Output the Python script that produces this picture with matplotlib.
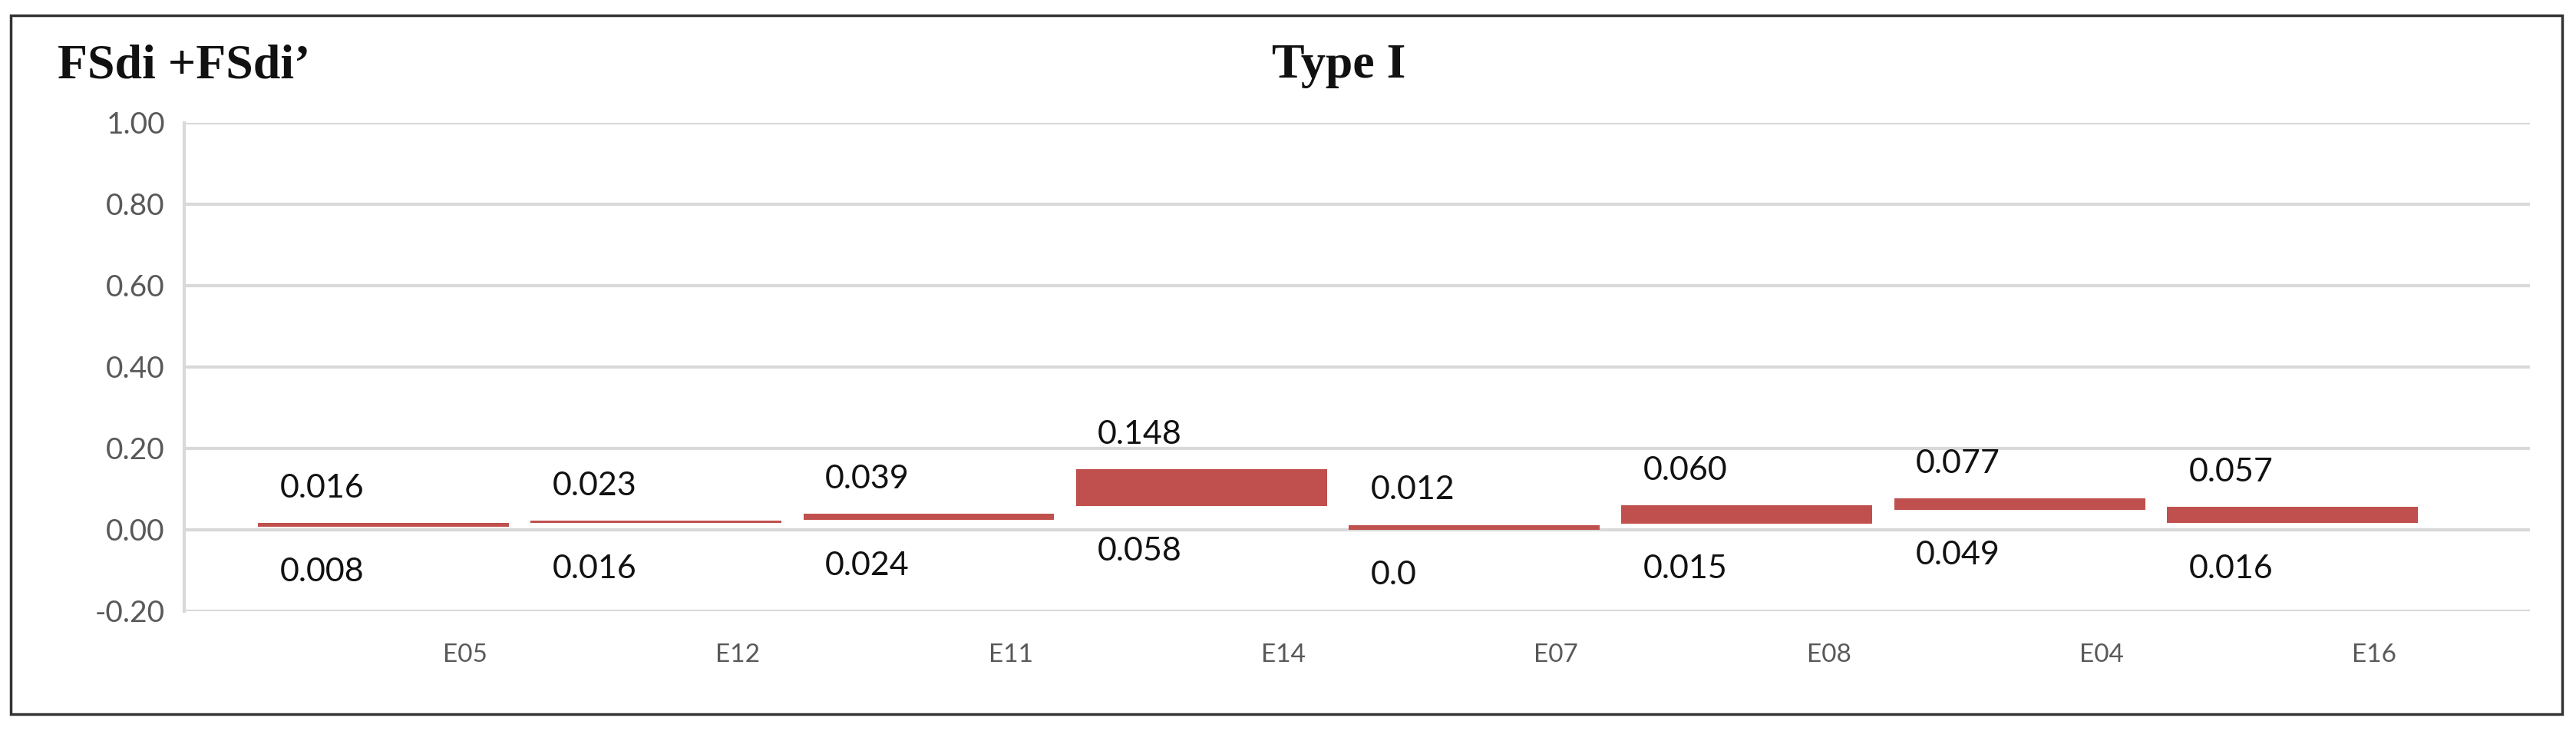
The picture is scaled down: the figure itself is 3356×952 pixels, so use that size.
import matplotlib
matplotlib.use("Agg")
import matplotlib.pyplot as plt
from matplotlib.patches import Rectangle

categories = ["E05", "E12", "E11", "E14", "E07", "E08", "E04", "E16"]
low_values = [0.008, 0.016, 0.024, 0.058, 0.0, 0.015, 0.049, 0.016]
high_values = [0.016, 0.023, 0.039, 0.148, 0.012, 0.060, 0.077, 0.057]
low_labels = ["0.008", "0.016", "0.024", "0.058", "0.0", "0.015", "0.049", "0.016"]
high_labels = ["0.016", "0.023", "0.039", "0.148", "0.012", "0.060", "0.077", "0.057"]
y_ticks = [-0.2, 0.0, 0.2, 0.4, 0.6, 0.8, 1.0]

DPI = 100
fig = plt.figure(figsize=(33.56, 9.52), dpi=DPI)
ax = fig.add_axes([0.0715, 0.164, 0.9105, 0.668])

x = list(range(len(categories)))
heights = [h - l for h, l in zip(high_values, low_values)]
ax.bar(x, heights, bottom=low_values, width=0.92, color="#c0504d", zorder=3)

for xi, lo, hi, ll, hl in zip(x, low_values, high_values, low_labels, high_labels):
    ax.text(xi - 0.38, hi + 0.085, hl, ha="left", va="center",
            fontsize=31, family="Lato", color="#111111", zorder=4)
    ax.text(xi - 0.38, lo - 0.112, ll, ha="left", va="center",
            fontsize=31, family="Lato", color="#111111", zorder=4)

ax.set_xlim(-0.73, 7.87)
ax.set_ylim(-0.2, 1.0)
ax.set_yticks(y_ticks)
ax.set_yticklabels([f"{v:.2f}" for v in y_ticks], fontsize=28, family="Lato", color="#595959")
ax.yaxis.grid(True, color="#d9d9d9", linewidth=3, zorder=0)
ax.set_axisbelow(True)

# category labels sit to the right of each bar centre in the reference
ax.set_xticks([xi + 0.30 for xi in x])
ax.set_xticklabels(categories, fontsize=24, family="Lato", color="#595959")
ax.tick_params(axis="x", length=0, pad=30)
ax.tick_params(axis="y", length=0, pad=18)

for s in ["top", "right", "bottom"]:
    ax.spines[s].set_visible(False)
ax.spines["left"].set_color("#d9d9d9")
ax.spines["left"].set_linewidth(3)

fig.text(75 / 3356, 1 - 86 / 952, "FSdi +FSdi\u2019", fontsize=46, fontweight="bold",
         family="Liberation Serif", ha="left", va="center", color="#111111")
fig.text(1744 / 3356, 1 - 86 / 952, "Type I", fontsize=46, fontweight="bold",
         family="Liberation Serif", ha="center", va="center", color="#111111")

fig.patches.append(Rectangle((14 / 3356, 1 - 930 / 952), (3338 - 14) / 3356, (930 - 20) / 952,
                             transform=fig.transFigure, fill=False,
                             edgecolor="#333333", linewidth=2.5))

fig.savefig("out.png", dpi=DPI)
